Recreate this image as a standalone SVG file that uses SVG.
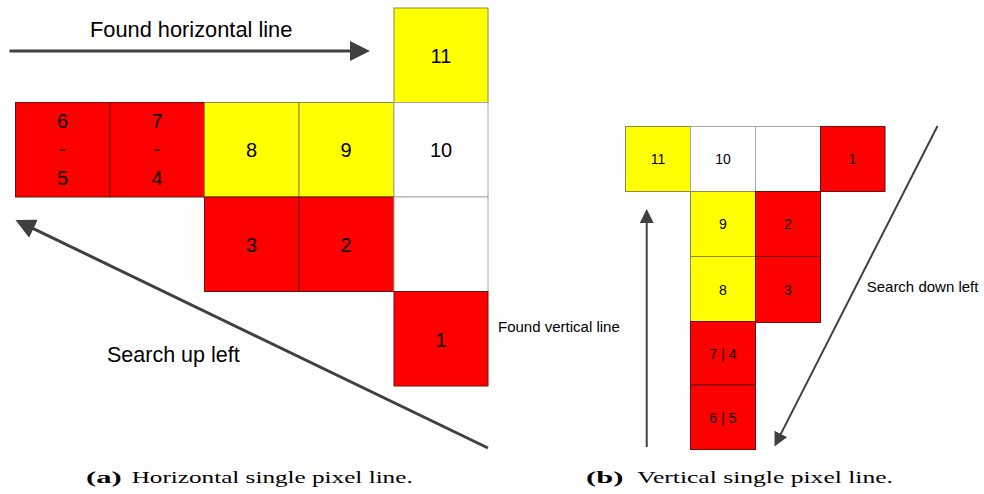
<svg xmlns="http://www.w3.org/2000/svg" width="984" height="494" viewBox="0 0 984 494">
  <style>
    .red { fill: #ff0000; stroke: #6a1010; stroke-width: 1; }
    .yel { fill: #ffff00; stroke: #8a8a4a; stroke-width: 1; }
    .wht { fill: #ffffff; stroke: #a8a8a8; stroke-width: 1; }
    .big { font-family: "Liberation Sans", Arial, sans-serif; font-size: 20px; fill: #000; text-anchor: middle; }
    .sm { font-family: "Liberation Sans", Arial, sans-serif; font-size: 14px; fill: #000; text-anchor: middle; }
    .lbl { font-family: "Liberation Sans", Arial, sans-serif; fill: #000; }
    .cap { font-family: "Liberation Serif", "DejaVu Serif", serif; font-size: 17px; fill: #000; }
    .arrowL { stroke: #404040; stroke-width: 3; fill: none; }
    .arrowS { stroke: #404040; stroke-width: 2; fill: none; }
  </style>
  <defs>
    <marker id="headL" viewBox="0 0 20 20" refX="14" refY="10" markerWidth="20" markerHeight="20" markerUnits="userSpaceOnUse" orient="auto">
      <path d="M0,0 L20,10 L0,20 Z" fill="#404040"/>
    </marker>
    <marker id="headS" viewBox="0 0 14 14" refX="10" refY="7" markerWidth="14" markerHeight="14" markerUnits="userSpaceOnUse" orient="auto">
      <path d="M0,0 L14,7 L0,14 Z" fill="#404040"/>
    </marker>
  </defs>

  <!-- (a) horizontal single pixel line -->
  <g id="a-cell-11"><rect class="yel" x="394" y="8" width="94" height="94.5"/><text class="big" x="441" y="63">11</text></g>
  <g id="a-cell-6-5"><rect class="red" x="15.5" y="102.5" width="94.5" height="94.5"/><text class="big" x="62.5" y="128">6</text><text class="big" x="62.5" y="156">-</text><text class="big" x="62.5" y="185">5</text></g>
  <g id="a-cell-7-4"><rect class="red" x="110" y="102.5" width="94.5" height="94.5"/><text class="big" x="157" y="128">7</text><text class="big" x="157" y="156">-</text><text class="big" x="157" y="185">4</text></g>
  <g id="a-cell-8"><rect class="yel" x="204.5" y="102.5" width="94.5" height="94.5"/><text class="big" x="251.5" y="157">8</text></g>
  <g id="a-cell-9"><rect class="yel" x="299" y="102.5" width="95" height="94.5"/><text class="big" x="346" y="157">9</text></g>
  <g id="a-cell-10"><rect class="wht" x="394" y="102.5" width="94" height="94.5"/><text class="big" x="441" y="157">10</text></g>
  <g id="a-cell-3"><rect class="red" x="204.5" y="197" width="94.5" height="94.5"/><text class="big" x="251.5" y="251.5">3</text></g>
  <g id="a-cell-2"><rect class="red" x="299" y="197" width="95" height="94.5"/><text class="big" x="346" y="251.5">2</text></g>
  <g id="a-cell-empty"><rect class="wht" x="394" y="197" width="94" height="94.5"/></g>
  <g id="a-cell-1"><rect class="red" x="394" y="291.5" width="94" height="94.5"/><text class="big" x="441" y="346.5">1</text></g>

  <!-- (b) vertical single pixel line -->
  <g id="b-cell-11"><rect class="yel" x="625.5" y="126.5" width="65" height="65"/><text class="sm" x="658" y="164">11</text></g>
  <g id="b-cell-10"><rect class="wht" x="690.5" y="126.5" width="65" height="65"/><text class="sm" x="723" y="164">10</text></g>
  <g id="b-cell-empty"><rect class="wht" x="755.5" y="126.5" width="65" height="65"/></g>
  <g id="b-cell-1"><rect class="red" x="820.5" y="126.5" width="64.5" height="65"/><text class="sm" x="852.5" y="164">1</text></g>
  <g id="b-cell-9"><rect class="yel" x="690.5" y="191.5" width="65" height="65"/><text class="sm" x="723" y="229">9</text></g>
  <g id="b-cell-2"><rect class="red" x="755.5" y="191.5" width="65" height="65"/><text class="sm" x="788" y="229">2</text></g>
  <g id="b-cell-8"><rect class="yel" x="690.5" y="256.5" width="65" height="65"/><text class="sm" x="723" y="295">8</text></g>
  <g id="b-cell-3"><rect class="red" x="755.5" y="256.5" width="65" height="66"/><text class="sm" x="788" y="295">3</text></g>
  <g id="b-cell-7-4"><rect class="red" x="690.5" y="321.5" width="65" height="63.5"/><text class="sm" x="723" y="359">7 | 4</text></g>
  <g id="b-cell-6-5"><rect class="red" x="690.5" y="385" width="65" height="64.5"/><text class="sm" x="723" y="423">6 | 5</text></g>

  <!-- connectors -->
  <g id="connectors">
    <line class="arrowL" x1="9.5" y1="51" x2="364" y2="51" marker-end="url(#headL)"/>
    <line class="arrowL" x1="488" y1="448" x2="20.9" y2="222.6" marker-end="url(#headL)"/>
    <line class="arrowS" x1="646.7" y1="447" x2="646.7" y2="213" marker-end="url(#headS)"/>
    <line class="arrowS" x1="937.5" y1="126" x2="776.3" y2="442.9" marker-end="url(#headS)"/>
  </g>

  <!-- labels -->
  <g id="labels">
    <text class="lbl" x="90" y="36.7" font-size="21.8">Found horizontal line</text>
    <text class="lbl" x="107" y="361.7" font-size="21.5">Search up left</text>
    <text class="lbl" x="498" y="332" font-size="15">Found vertical line</text>
    <text class="lbl" x="866.7" y="291.7" font-size="15">Search down left</text>
  </g>

  <!-- captions -->
  <g id="captions">
    <text class="cap" x="86" y="483" font-weight="bold" textLength="35.7" lengthAdjust="spacingAndGlyphs">(a)</text>
    <text class="cap" x="131.7" y="483" textLength="281" lengthAdjust="spacingAndGlyphs">Horizontal single pixel line.</text>
    <text class="cap" x="586" y="483" font-weight="bold" textLength="37.3" lengthAdjust="spacingAndGlyphs">(b)</text>
    <text class="cap" x="637.3" y="483" textLength="255.7" lengthAdjust="spacingAndGlyphs">Vertical single pixel line.</text>
  </g>
</svg>
